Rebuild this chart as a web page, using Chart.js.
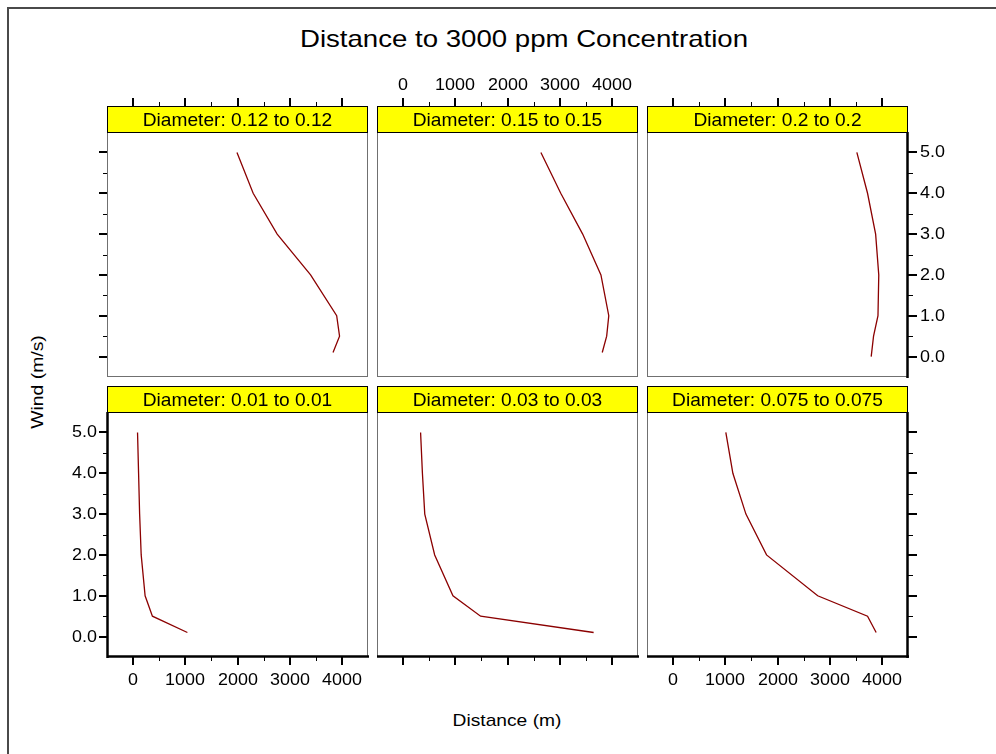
<!DOCTYPE html>
<html><head><meta charset="utf-8">
<script src="https://cdn.jsdelivr.net/npm/chart.js@4/dist/chart.umd.min.js"></script>
<style>
html,body{margin:0;padding:0;width:996px;height:754px;overflow:hidden;background:#fff;font-family:"Liberation Sans",Arial,sans-serif;}
#frame{position:absolute;left:7px;top:7px;width:1100px;height:900px;border:2px solid #4a4a4a;box-sizing:border-box;}
.txt{position:absolute;white-space:nowrap;color:#000;line-height:1;}
.panel{position:absolute;}
</style></head><body>
<div id="frame"></div>
<div class="txt" style="left:524px;top:39px;font-size:24px;transform:translate(-50%,-50%) scaleX(1.15);">Distance to 3000 ppm Concentration</div>
<div class="txt" style="left:507px;top:720px;font-size:17px;transform:translate(-50%,-50%) scaleX(1.13);">Distance (m)</div>
<div class="txt" style="left:37px;top:382px;font-size:17px;transform:translate(-50%,-50%) rotate(-90deg) scaleX(1.14);">Wind (m/s)</div>
<div id="host"></div>
<script>
// ---- data ----
const windLevels     = [5.0, 4.0, 3.0, 2.0, 1.0, 0.5, 0.1];
const windLevelsD020 = [5.0, 4.0, 3.0, 2.0, 1.0, 0.5, 0.0];
const distD012  = [1990, 2300, 2760, 3400, 3900, 3955, 3830];
const distD015  = [2640, 3020, 3440, 3790, 3940, 3900, 3815];
const distD020  = [3520, 3725, 3880, 3940, 3925, 3840, 3795];
const distD001  = [85, 105, 125, 155, 230, 370, 1040];
const distD003  = [335, 370, 415, 605, 955, 1485, 3650];
const distD0075 = [1010, 1145, 1395, 1790, 2770, 3725, 3890];
const stripLabels = ['Diameter: 0.12 to 0.12','Diameter: 0.15 to 0.15','Diameter: 0.2 to 0.2',
                     'Diameter: 0.01 to 0.01','Diameter: 0.03 to 0.03','Diameter: 0.075 to 0.075'];
const xMajor = [0, 1000, 2000, 3000, 4000];
const xMinor = [500, 1500, 2500, 3500];
const xTickLabels = ['0','1000','2000','3000','4000'];
const yMajor = [0, 1, 2, 3, 4, 5];
const yMinor = [0.5, 1.5, 2.5, 3.5, 4.5];
const yTickLabels = ['0.0','1.0','2.0','3.0','4.0','5.0'];

// ---- layout ----
const M = 80, PW = 261, PH = 245, STRIP = 26;
const colLeft = [107, 377, 647], rowTop = [132, 412];
const FONT = '"Liberation Sans", Arial, sans-serif';

const panels = [
  {lab:stripLabels[0], xs:distD012,  ys:windLevels,     r:0,c:0, top:'t',  left:'t',  thick:[]},
  {lab:stripLabels[1], xs:distD015,  ys:windLevels,     r:0,c:1, top:'tl', thick:[]},
  {lab:stripLabels[2], xs:distD020,  ys:windLevelsD020, r:0,c:2, top:'t',  right:'tl', thick:['right']},
  {lab:stripLabels[3], xs:distD001,  ys:windLevels,     r:1,c:0, bottom:'tl', left:'tl', thick:['left','bottom']},
  {lab:stripLabels[4], xs:distD003,  ys:windLevels,     r:1,c:1, bottom:'t', thick:['bottom']},
  {lab:stripLabels[5], xs:distD0075, ys:windLevels,     r:1,c:2, bottom:'tl', right:'t', thick:['right','bottom']},
];

function sText(ctx, s, x, y, align, size, sx){
  ctx.save();
  ctx.font = size + 'px ' + FONT;
  ctx.textBaseline = 'middle';
  ctx.fillStyle = '#000';
  const w = ctx.measureText(s).width * sx;
  let x0 = x;
  if (align === 'center') x0 = x - w/2; else if (align === 'right') x0 = x - w;
  ctx.translate(x0, y);
  ctx.scale(sx, 1);
  ctx.textAlign = 'left';
  ctx.fillText(s, 0, 0);
  ctx.restore();
}

const lattice = {
  id: 'lattice',
  afterDatasetsDraw(chart, args, opts){
    const p = opts.panel;
    const {ctx, chartArea:a} = chart;
    const xs = chart.scales.x, ys = chart.scales.y;
    ctx.save();
    ctx.strokeStyle = '#707070'; ctx.lineWidth = 1;
    ctx.strokeRect(a.left+0.5, a.top+0.5, a.right-a.left-1, a.bottom-a.top-1);
    ctx.strokeStyle = '#000'; ctx.lineWidth = 2.5;
    for (const s of p.thick){
      ctx.beginPath();
      if (s==='left'){ctx.moveTo(a.left+0.5,a.top);ctx.lineTo(a.left+0.5,a.bottom+1);}
      if (s==='right'){ctx.moveTo(a.right-0.5,a.top);ctx.lineTo(a.right-0.5,a.bottom+1);}
      if (s==='bottom'){ctx.moveTo(a.left,a.bottom-0.5);ctx.lineTo(a.right+1,a.bottom-0.5);}
      ctx.stroke();
    }
    const st = a.top - STRIP;
    ctx.fillStyle = '#ffff00';
    ctx.fillRect(a.left, st, a.right-a.left, STRIP);
    ctx.strokeStyle = '#000'; ctx.lineWidth = 1;
    ctx.strokeRect(a.left+0.5, st+0.5, a.right-a.left-1, STRIP);
    sText(ctx, p.lab, (a.left+a.right)/2, st + STRIP/2 + 1.5, 'center', 18.5, 1.035);
    ctx.strokeStyle = '#000';
    function tick(x1,y1,x2,y2,w){ctx.lineWidth=w;ctx.beginPath();ctx.moveTo(x1,y1);ctx.lineTo(x2,y2);ctx.stroke();}
    if (p.top){
      xMajor.forEach((v,i)=>{const px=Math.round(xs.getPixelForValue(v));tick(px,st,px,st-8,2);
        if(p.top==='tl') sText(ctx, xTickLabels[i], px, st-20.5, 'center', 16, 1.12);});
      xMinor.forEach(v=>{const px=Math.round(xs.getPixelForValue(v))+0.5;tick(px,st,px,st-4,1);});
    }
    if (p.bottom){
      const b = a.bottom;
      xMajor.forEach((v,i)=>{const px=Math.round(xs.getPixelForValue(v));tick(px,b,px,b+8,2);
        if(p.bottom==='tl') sText(ctx, xTickLabels[i], px, b+23.5, 'center', 16, 1.12);});
      xMinor.forEach(v=>{const px=Math.round(xs.getPixelForValue(v))+0.5;tick(px,b,px,b+4,1);});
    }
    if (p.left){
      yMajor.forEach((v,i)=>{const py=Math.round(ys.getPixelForValue(v));tick(a.left,py,a.left-8,py,2);
        if(p.left==='tl') sText(ctx, yTickLabels[i], a.left-10, py+0.5, 'right', 16, 1.12);});
      yMinor.forEach(v=>{const py=Math.round(ys.getPixelForValue(v))+0.5;tick(a.left,py,a.left-4,py,1);});
    }
    if (p.right){
      const r = a.right;
      yMajor.forEach((v,i)=>{const py=Math.round(ys.getPixelForValue(v));tick(r,py,r+9,py,2);
        if(p.right==='tl') sText(ctx, yTickLabels[i], r+12, py+0.5, 'left', 16, 1.12);});
      yMinor.forEach(v=>{const py=Math.round(ys.getPixelForValue(v))+0.5;tick(r,py,r+5,py,1);});
    }
    ctx.restore();
  }
};

const host = document.getElementById('host');
panels.forEach(p=>{
  const div = document.createElement('div');
  div.className = 'panel';
  div.style.left = (colLeft[p.c]-M)+'px';
  div.style.top = (rowTop[p.r]-M)+'px';
  const cv = document.createElement('canvas');
  cv.width = PW + 2*M; cv.height = PH + 2*M;
  cv.style.width = cv.width+'px'; cv.style.height = cv.height+'px';
  div.appendChild(cv); host.appendChild(div);
  new Chart(cv, {
    type: 'scatter',
    data: { datasets: [{
      data: p.xs.map((x,i)=>({x:x, y:p.ys[i]})),
      showLine: true, pointRadius: 0, borderColor: '#8b0000', borderWidth: 1.3, tension: 0
    }]},
    options: {
      responsive: false, animation: false, devicePixelRatio: 1, events: [],
      layout: { padding: M },
      plugins: { legend:{display:false}, tooltip:{enabled:false}, lattice:{panel:p} },
      scales: {
        x: { type:'linear', min:-500, max:4500, display:false },
        y: { type:'linear', min:-0.5, max:5.5, display:false }
      }
    },
    plugins: [lattice]
  });
});
</script>
</body></html>
